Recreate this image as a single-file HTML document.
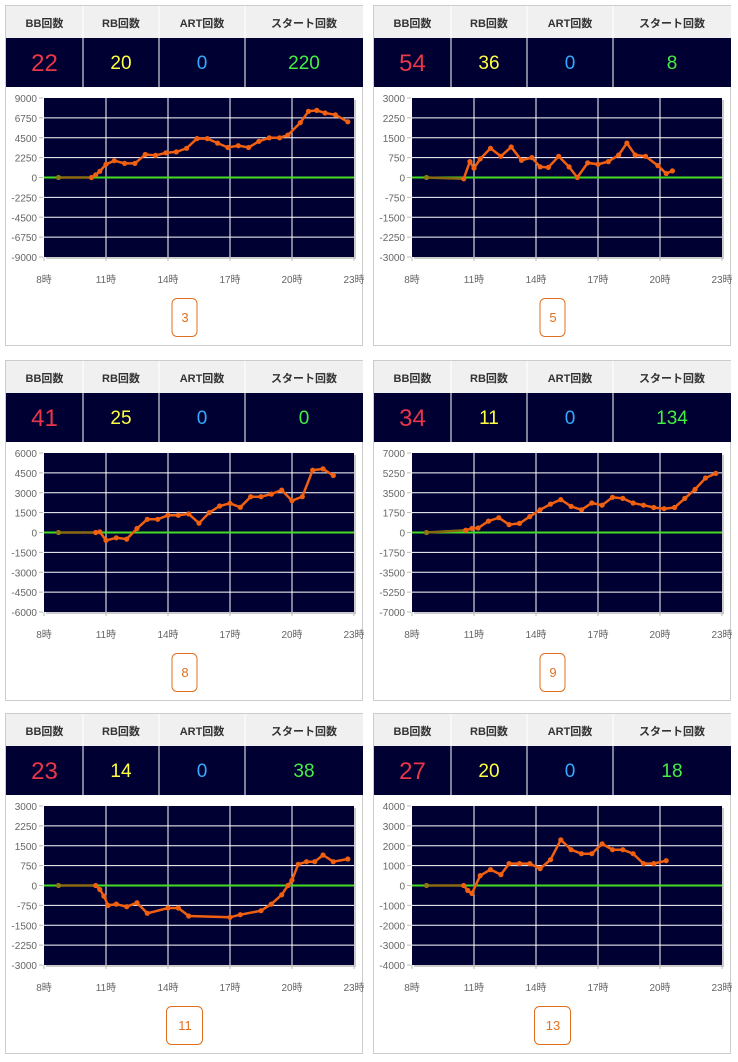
<!DOCTYPE html>
<html><head><meta charset="utf-8">
<style>
body{margin:0;background:#fff;width:738px;height:1062px;position:relative;overflow:hidden;font-family:"Liberation Sans","Noto Sans CJK JP",sans-serif;}
.p{position:absolute;width:358px;height:341px;border:1px solid #ccc;box-sizing:border-box;}
svg{position:absolute;left:0;top:0;}
</style></head><body>
<div id="root"></div>
<script>
const panels=[
 {x:5,y:5,v:["22","20","0","220"],r:9000,b:"3",d:[[8.7,0],[10.3,0],[10.5,300],[10.7,700],[11,1500],[11.4,1900],[11.9,1600],[12.4,1600],[12.9,2600],[13.4,2500],[13.9,2800],[14.4,2900],[14.9,3300],[15.4,4400],[15.9,4400],[16.4,3900],[16.9,3400],[17.4,3600],[17.9,3400],[18.4,4100],[18.9,4500],[19.4,4500],[19.8,4800],[20.4,6200],[20.8,7500],[21.2,7600],[21.6,7300],[22.1,7100],[22.7,6300]]},
 {x:373,y:5,v:["54","36","0","8"],r:3000,b:"5",d:[[8.7,0],[10.5,-50],[10.8,600],[11,350],[11.3,700],[11.8,1100],[12.3,800],[12.8,1150],[13.3,650],[13.8,750],[14.2,400],[14.6,380],[15.1,800],[15.6,400],[16,0],[16.5,550],[17,500],[17.5,600],[18,850],[18.4,1300],[18.8,850],[19.3,800],[19.9,450],[20.3,150],[20.6,250]]},
 {x:5,y:360,v:["41","25","0","0"],r:6000,b:"8",d:[[8.7,0],[10.5,0],[10.7,50],[11,-600],[11.5,-400],[12,-500],[12.5,300],[13,1000],[13.5,1000],[14,1300],[14.5,1300],[15,1400],[15.5,700],[16,1500],[16.5,2000],[17,2200],[17.5,1900],[18,2700],[18.5,2700],[19,2900],[19.5,3200],[20,2400],[20.5,2700],[21,4700],[21.5,4800],[22,4300]]},
 {x:373,y:360,v:["34","11","0","134"],r:7000,b:"9",d:[[8.7,0],[10.6,200],[10.9,350],[11.2,400],[11.7,1000],[12.2,1300],[12.7,700],[13.2,800],[13.7,1400],[14.2,2000],[14.7,2500],[15.2,2900],[15.7,2300],[16.2,2000],[16.7,2600],[17.2,2400],[17.7,3100],[18.2,3000],[18.7,2600],[19.2,2400],[19.7,2200],[20.2,2100],[20.7,2200],[21.2,3000],[21.7,3800],[22.2,4800],[22.7,5200]]},
 {x:5,y:713,v:["23","14","0","38"],r:3000,b:"11",d:[[8.7,0],[10.5,0],[10.7,-150],[10.9,-400],[11.1,-750],[11.5,-700],[12,-800],[12.5,-650],[13,-1050],[14,-850],[14.5,-850],[15,-1150],[17,-1200],[17.5,-1100],[18.5,-950],[19,-700],[19.5,-350],[19.8,0],[20,200],[20.3,800],[20.7,900],[21.1,900],[21.5,1150],[22,900],[22.7,1000]]},
 {x:373,y:713,v:["27","20","0","18"],r:4000,b:"13",d:[[8.7,0],[10.5,0],[10.7,-250],[10.9,-400],[11.3,500],[11.8,800],[12.3,550],[12.7,1100],[13.2,1100],[13.7,1100],[14.2,850],[14.7,1300],[15.2,2300],[15.7,1800],[16.2,1600],[16.7,1600],[17.2,2100],[17.7,1800],[18.2,1800],[18.7,1600],[19.2,1100],[19.7,1100],[20.3,1250]]}
];
const cols=["#e8364a","#ffff44","#33aaff","#44ee44"];
const hd=["BB回数","RB回数","ART回数","スタート回数"];
const cx=[0,77,153,239,357];
let h="";
for(const p of panels){
 let s=`<div class="p" style="left:${p.x}px;top:${p.y}px"><svg width="358" height="341" font-family="Liberation Sans, Noto Sans CJK JP, sans-serif">`;
 s+=`<rect x="0" y="0" width="357" height="32" fill="#f0f0f0"/><rect x="0" y="32" width="357" height="49" fill="#000033"/>`;
 for(let i=0;i<4;i++){
  const m=(cx[i]+cx[i+1])/2;
  s+=`<text x="${m}" y="21" font-size="11" font-weight="bold" fill="#333" text-anchor="middle">${hd[i]}</text>`;
  s+=`<text x="${m}" y="${i==0?65:63}" font-size="${i==0?24:19}" fill="${cols[i]}" text-anchor="middle">${p.v[i]}</text>`;
  if(i>0) s+=`<line x1="${cx[i]}" y1="0" x2="${cx[i]}" y2="81" stroke="#fff" stroke-width="1"/>`;
 }
 const L=38,R=348,T=92,B=251;
 s+=`<rect x="${L+2}" y="${T+2}" width="${R-L}" height="${B-T}" fill="#ccc"/>`;
 s+=`<rect x="${L}" y="${T}" width="${R-L}" height="${B-T}" fill="#000033"/>`;
 const X=t=>L+(t-8)/15*(R-L), Y=v=>T+(p.r-v)/(2*p.r)*(B-T);
 for(let k=1;k<8;k++){const y=T+k*(B-T)/8;s+=`<line x1="${L}" y1="${y}" x2="${R}" y2="${y}" stroke="#fff" stroke-width="1"/>`;}
 for(let k=0;k<=8;k++){const y=T+k*(B-T)/8;const v=p.r-k*p.r/4;
  s+=`<line x1="${L-5}" y1="${y}" x2="${L-1}" y2="${y}" stroke="#bbb"/>`;
  s+=`<text x="${L-7}" y="${y+4}" font-size="10" fill="#666" text-anchor="end">${v}</text>`;}
 for(let k=0;k<=5;k++){const x=X(8+3*k);
  if(k>0&&k<5) s+=`<line x1="${x}" y1="${T}" x2="${x}" y2="${B}" stroke="#fff"/>`;
  s+=`<line x1="${x}" y1="${B}" x2="${x}" y2="${B+4}" stroke="#bbb"/>`;
  s+=`<text x="${x}" y="${B+26}" font-size="10" fill="#666" text-anchor="middle">${8+3*k}時</text>`;}
 s+=`<line x1="${L}" y1="${Y(0)}" x2="${R}" y2="${Y(0)}" stroke="#44dd22" stroke-width="2"/>`;
 const pts=p.d.map(q=>[X(q[0]).toFixed(1),Y(q[1]).toFixed(1)]);
 s+=`<polyline points="${pts[0].join(',')} ${pts[1].join(',')}" fill="none" stroke="#8a6a10" stroke-width="2.5"/>`;
 s+=`<polyline points="${pts.slice(1).map(a=>a.join(',')).join(' ')}" fill="none" stroke="#f06010" stroke-width="2.5"/>`;
 pts.forEach((a,i)=>{s+=`<circle cx="${a[0]}" cy="${a[1]}" r="2.6" fill="${i==0?'#8a7a10':'#f06010'}"/>`;});
 const bw=p.b.length>1?36:25;
 s+=`<rect x="${179-bw/2-0.5}" y="292.5" width="${bw}" height="38" rx="5" fill="#fff" stroke="#e07020"/>`;
 s+=`<text x="179" y="316" font-size="13" fill="#e07020" text-anchor="middle">${p.b}</text>`;
 s+=`</svg></div>`;
 h+=s;
}
document.getElementById("root").innerHTML=h;
</script>
</body></html>
